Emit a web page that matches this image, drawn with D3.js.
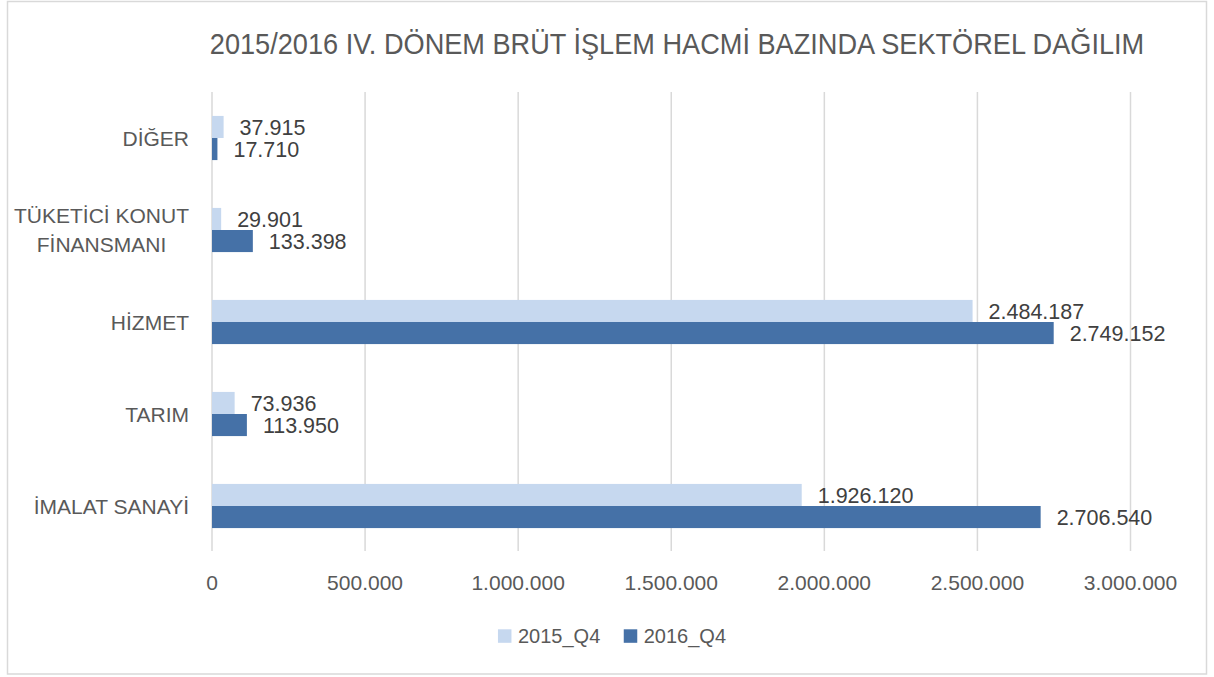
<!DOCTYPE html>
<html>
<head>
<meta charset="utf-8">
<script src="https://cdn.jsdelivr.net/npm/d3@7"></script>
<style>
	body { margin: 0; background: #fff; }
	text { font-family: "Liberation Sans", Arial, sans-serif; fill: #595959; }
</style>
</head>
<body>
<svg id="chart"></svg>
<script>
const categories = [ 'İMALAT SANAYİ', 'TARIM', 'HİZMET', 'TÜKETİCİ KONUT FİNANSMANI', 'DİĞER' ];
const seriesNames = [ '2015_Q4', '2016_Q4' ];
const values2015 = [ 1926120, 73936, 2484187, 29901, 37915 ];
const values2016 = [ 2706540, 113950, 2749152, 133398, 17710 ];
const xTicks = [ 0, 500000, 1000000, 1500000, 2000000, 2500000, 3000000 ];
const titleText = '2015/2016 IV. DÖNEM BRÜT İŞLEM HACMİ BAZINDA SEKTÖREL DAĞILIM';

const colors = [ '#c6d8ef', '#4571a7' ];
const gridColor = '#d9d9d9';

const width = 1214;
const height = 677;
const plot = { left: 212, right: 1130.5, top: 92, bottom: 552 };

const fmt = d3.formatLocale( { decimal: ',', thousands: '.', grouping: [ 3 ], currency: [ '', '' ] } ).format( ',' );

const svg = d3.select( '#chart' )
	.attr( 'width', width )
	.attr( 'height', height );

// Outer frame
svg.append( 'rect' )
	.attr( 'x', 7.5 )
	.attr( 'y', 1.5 )
	.attr( 'width', 1199 )
	.attr( 'height', 672.5 )
	.attr( 'fill', '#fff' )
	.attr( 'stroke', gridColor )
	.attr( 'stroke-width', 1.5 );

// Title (squeezed a bit to mimic the narrow original face)
svg.append( 'text' )
	.attr( 'transform', 'translate(677,53.5) scale(0.905,1)' )
	.attr( 'text-anchor', 'middle' )
	.style( 'font-size', '30px' )
	.text( titleText );

// Scales
const xScale = d3.scaleLinear()
	.domain( [ 0, 3000000 ] )
	.range( [ plot.left, plot.right ] );

// top to bottom is reverse of data order
const yScale = d3.scaleBand()
	.domain( categories.slice().reverse() )
	.range( [ plot.top, plot.bottom ] )
	.paddingInner( 0.52 )
	.paddingOuter( 0.26 );

const subScale = d3.scaleBand()
	.domain( seriesNames )
	.range( [ 0, yScale.bandwidth() ] );

// Gridlines
svg.append( 'g' )
	.selectAll( 'line' )
	.data( xTicks )
	.enter()
	.append( 'line' )
	.attr( 'x1', ( d ) => xScale( d ) )
	.attr( 'x2', ( d ) => xScale( d ) )
	.attr( 'y1', plot.top )
	.attr( 'y2', plot.bottom - 1 )
	.attr( 'stroke', gridColor )
	.attr( 'stroke-width', 1.5 );

// Tick labels
svg.append( 'g' )
	.selectAll( 'text' )
	.data( xTicks )
	.enter()
	.append( 'text' )
	.attr( 'x', ( d ) => xScale( d ) )
	.attr( 'y', 590 )
	.attr( 'text-anchor', 'middle' )
	.style( 'font-size', '21px' )
	.text( ( d ) => fmt( d ) );

// Bars + labels
const rows = [];
categories.forEach( ( c, i ) => {
	rows.push( { cat: c, series: seriesNames[ 0 ], value: values2015[ i ], color: colors[ 0 ] } );
	rows.push( { cat: c, series: seriesNames[ 1 ], value: values2016[ i ], color: colors[ 1 ] } );
} );

const barG = svg.append( 'g' );

barG.selectAll( 'rect' )
	.data( rows )
	.enter()
	.append( 'rect' )
	.attr( 'x', xScale( 0 ) )
	.attr( 'y', ( d ) => yScale( d.cat ) + subScale( d.series ) )
	.attr( 'width', ( d ) => xScale( d.value ) - xScale( 0 ) )
	.attr( 'height', subScale.bandwidth() )
	.attr( 'fill', ( d ) => d.color );

barG.selectAll( 'text' )
	.data( rows )
	.enter()
	.append( 'text' )
	.attr( 'x', ( d ) => xScale( d.value ) + 16 )
	.attr( 'y', ( d ) => yScale( d.cat ) + subScale( d.series ) + subScale.bandwidth() / 2 + 7.8 )
	.style( 'font-size', '21.5px' )
	.style( 'fill', '#404040' )
	.text( ( d ) => fmt( d.value ) );

// Category labels, wrapped like Excel does
const catG = svg.append( 'g' ).style( 'font-size', '21px' );
const labelRight = 189;
const maxLabelWidth = 185;
const lineHeight = 29;

categories.forEach( ( c ) => {
	const g = catG.append( 'g' );
	const probe = g.append( 'text' );
	const words = c.split( ' ' );
	const lines = [];
	let current = '';
	words.forEach( ( w ) => {
		const test = current ? current + ' ' + w : w;
		probe.text( test );
		if ( probe.node().getComputedTextLength() > maxLabelWidth && current ) {
			lines.push( current );
			current = w;
		} else {
			current = test;
		}
	} );
	lines.push( current );
	probe.remove();

	const widths = lines.map( ( l ) => {
		const t = g.append( 'text' ).text( l );
		const w = t.node().getComputedTextLength();
		t.remove();
		return w;
	} );
	const blockW = d3.max( widths );
	const cx = labelRight - blockW / 2;
	const cy = yScale( c ) + yScale.bandwidth() / 2;
	const firstBaseline = cy + 7.5 - ( lines.length - 1 ) * lineHeight / 2;

	g.selectAll( 'text' )
		.data( lines )
		.enter()
		.append( 'text' )
		.attr( 'x', cx )
		.attr( 'y', ( d, i ) => firstBaseline + i * lineHeight )
		.attr( 'text-anchor', 'middle' )
		.text( ( d ) => d );
} );

// Legend
const legendG = svg.append( 'g' ).style( 'font-size', '20px' );
const items = seriesNames.map( ( name, i ) => {
	const t = legendG.append( 'text' ).text( name );
	const w = t.node().getComputedTextLength();
	t.remove();
	return { name, color: colors[ i ], w };
} );
const sq = 13.5;
const sqGap = 6.5;
const itemGap = 23.5;
const totalW = d3.sum( items, ( d ) => sq + sqGap + d.w ) + itemGap * ( items.length - 1 );
let lx = 612 - totalW / 2;
items.forEach( ( d ) => {
	legendG.append( 'rect' )
		.attr( 'x', lx )
		.attr( 'y', 629.3 )
		.attr( 'width', sq )
		.attr( 'height', sq )
		.attr( 'fill', d.color );
	legendG.append( 'text' )
		.attr( 'x', lx + sq + sqGap )
		.attr( 'y', 643 )
		.text( d.name );
	lx += sq + sqGap + d.w + itemGap;
} );
</script>
</body>
</html>
